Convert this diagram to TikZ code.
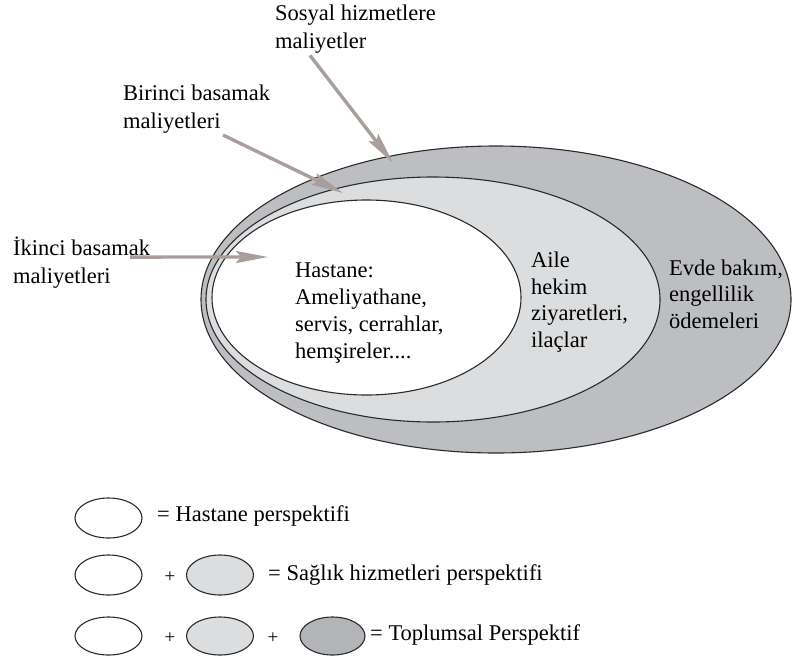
\documentclass[tikz,border=0pt]{standalone}
\usepackage{fontspec}
\setmainfont{Liberation Serif}
\usetikzlibrary{shapes.geometric,arrows.meta,calc}

\definecolor{societyfill}{HTML}{BDBEC1}
\definecolor{carefill}{HTML}{DCDDDF}
\definecolor{societykey}{HTML}{B3B4B7}
\definecolor{pointercol}{HTML}{A89F9C}
\definecolor{rimcol}{HTML}{2A2A2A}

\tikzset{
  zone/.style={ellipse, draw=rimcol, line width=1.1pt, inner sep=0pt},
  keyoval/.style={ellipse, draw=rimcol, line width=1.1pt, inner sep=0pt,
                  minimum width=67pt, minimum height=40pt},
  % multi-line nodes: the base anchor sits on the last line
  txt/.style={inner sep=0pt, align=left, anchor=base west,
              font=\fontsize{22.5}{27}\selectfont},
  labeltxt/.style={txt, font=\fontsize{22.5}{28}\selectfont},
  keytxt/.style={inner sep=0pt, anchor=base west,
                 font=\fontsize{22.5}{27}\selectfont},
  plus/.style={inner sep=0pt, font=\fontsize{19}{21}\selectfont},
  pointer/.style={draw=pointercol, line width=3.4pt,
                  -{Stealth[length=32pt,width=12pt,inset=5pt]}}
}

\begin{document}
\begin{tikzpicture}[x=1pt,y=-1pt]
\useasboundingbox (0,0) rectangle (792,662);

% nested cost zones
\node[zone, fill=societyfill, minimum width=590pt, minimum height=307pt] (society) at (496,299.5) {};
\node[zone, fill=carefill, minimum width=454pt, minimum height=245pt] (care) at (433,299.5) {};
\node[zone, fill=white, minimum width=309pt, minimum height=195pt] (hospital) at (366.5,297.5) {};

% texts inside the zones
\node[txt] (hosptext) at (295,358) {Hastane:\\Ameliyathane,\\servis, cerrahlar,\\hemşireler....};
\node[txt, font=\fontsize{22.5}{26.5}\selectfont] (caretext) at (531,347) {Aile\\hekim\\ziyaretleri,\\ilaçlar};
\node[txt, font=\fontsize{22.5}{26.5}\selectfont] (socitext) at (669,328) {Evde bakım,\\engellilik\\ödemeleri};

% outside labels
\node[labeltxt] (sosyal) at (275,48.3) {Sosyal hizmetlere\\maliyetler};
\node[labeltxt] (birinci) at (123,128) {Birinci basamak\\maliyetleri};
\node[labeltxt] (ikinci) at (13,283) {İkinci basamak\\maliyetleri};

% pointer targets
\coordinate (sosyal-tip) at (393,163);
\coordinate (birinci-tip) at (343,193);
\coordinate (ikinci-tip) at (268,257);

\draw[pointer] ($(sosyal.south west)+(35,2)$) -- (sosyal-tip);
\draw[pointer] ($(birinci.south west)+(100,2)$) -- (birinci-tip);
\draw[pointer] ($(ikinci.south west)+(117,-31)$) -- (ikinci-tip);

% key
\node[keyoval, fill=white] (k1a) at (108.5,518) {};
\node[keytxt] (k1t) at (157,521.7) {= Hastane perspektifi};

\node[keyoval, fill=white] (k2a) at (108.5,575) {};
\node[plus] (k2p) at (170,577) {+};
\node[keyoval, fill=carefill] (k2b) at (220,575) {};
\node[keytxt] (k2t) at (268,580) {= Sağlık hizmetleri perspektifi};

\node[keyoval, fill=white, minimum height=38pt] (k3a) at (108.5,636) {};
\node[plus] (k3p) at (170,638) {+};
\node[keyoval, fill=carefill, minimum height=38pt] (k3b) at (220,636) {};
\node[plus] (k3q) at (273,638) {+};
\node[keyoval, fill=societykey, minimum width=65pt, minimum height=38pt] (k3c) at (332.5,636) {};
\node[keytxt] (k3t) at (370,640) {= Toplumsal Perspektif};

\end{tikzpicture}
\end{document}
